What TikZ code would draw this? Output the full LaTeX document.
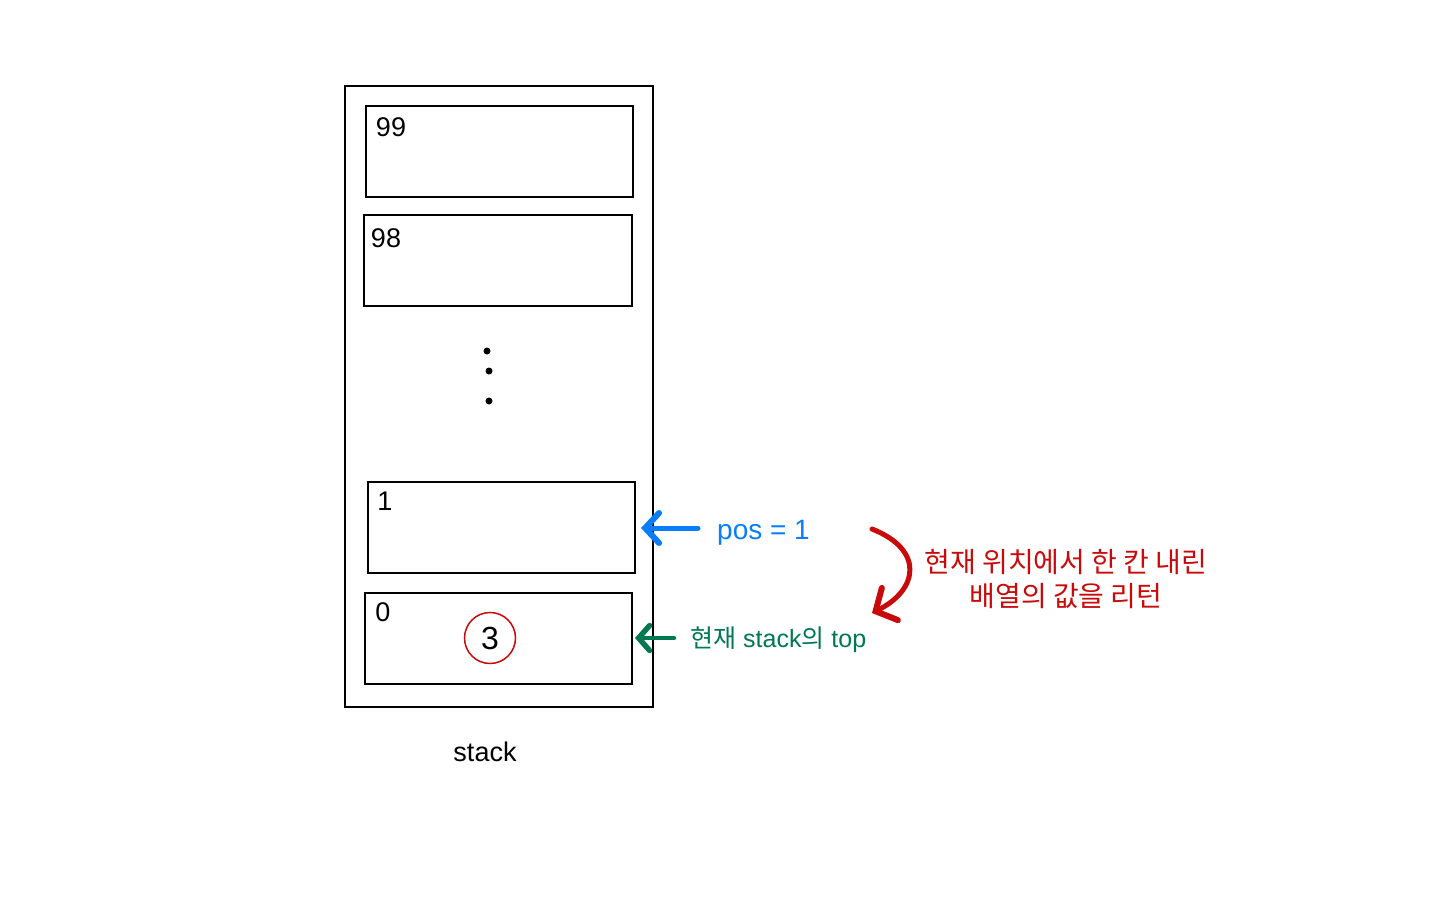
\documentclass[tikz,border=0pt]{standalone}
\usepackage{fontspec}
\setmainfont{Liberation Sans}
\newfontfamily\kr{Noto Sans CJK KR}
\usetikzlibrary{arrows.meta}
\definecolor{myblue}{RGB}{10,125,250}
\definecolor{mygreen}{RGB}{0,120,80}
\definecolor{myred}{RGB}{200,10,10}
\begin{document}
\begin{tikzpicture}[x=1pt,y=-1pt,
  cell/.style={draw,line width=1.6pt,minimum width=267pt,minimum height=91pt,inner sep=0pt,anchor=north west},
  num/.style={font=\fontsize{27}{30}\selectfont,inner sep=0pt},
  barb/.style={-{Straight Barb[length=14pt,width=30pt,line cap=round,line width=0pt 1.2]},line width=5pt,line cap=round}]
\useasboundingbox (0,0) rectangle (1440,900);
\node[draw,line width=1.6pt,minimum width=308pt,minimum height=621pt,inner sep=0pt,anchor=north west] (outer) at (344,85) {};
\node[cell] (c99) at (365,105) {};
\node[cell,minimum width=268pt] (c98) at (363,214) {};
\node[cell] (c1) at (367,481) {};
\node[cell] (c0) at (364,592) {};
\node[num] (l99) at (391,127) {99};
\node[num] (l98) at (386,238) {98};
\node[num] (l1) at (385,501) {1};
\node[num] (l0) at (383,612) {0};
\fill (487,351) circle (3.5pt) (489,371) circle (3.5pt) (489,401) circle (3.5pt);
\node[draw=myred,circle,line width=1.5pt,minimum size=51pt,inner sep=0pt,font=\fontsize{32}{34}\selectfont] (three) at (490,638) {3};
\node[font=\fontsize{27}{30}\selectfont] (lbl) at (485,752) {stack};
\node[font=\fontsize{28}{30}\selectfont,text=myblue,anchor=west,inner sep=0pt] (pos) at (717,533) {pos = 1};
\coordinate (bs) at (698,528);
\coordinate (be) at (641,528);
\draw[barb,myblue] (bs) -- (be);
\node[font=\fontsize{25}{27}\selectfont,text=mygreen,anchor=west,inner sep=0pt] (top) at (690,640) {{\kr 현재} stack{\kr 의} top};
\coordinate (gs) at (674,638);
\coordinate (ge) at (635,638);
\draw[barb,mygreen,line width=4.5pt,-{Straight Barb[length=11pt,width=25pt,line cap=round,line width=0pt 1.2]}] (gs) -- (ge);
\node[font=\kr\fontsize{28}{34}\selectfont,text=myred,align=center] (note) at (1066,579) {현재 위치에서 한 칸 내린\\배열의 값을 리턴};
\coordinate (rs) at (872,529);
\coordinate (re) at (872,613);
\draw[barb,myred,-{Straight Barb[length=16pt,width=36pt,line cap=round,line width=0pt 1.2]}] (rs) .. controls (925,550) and (918,590) .. (re);
\end{tikzpicture}
\end{document}
